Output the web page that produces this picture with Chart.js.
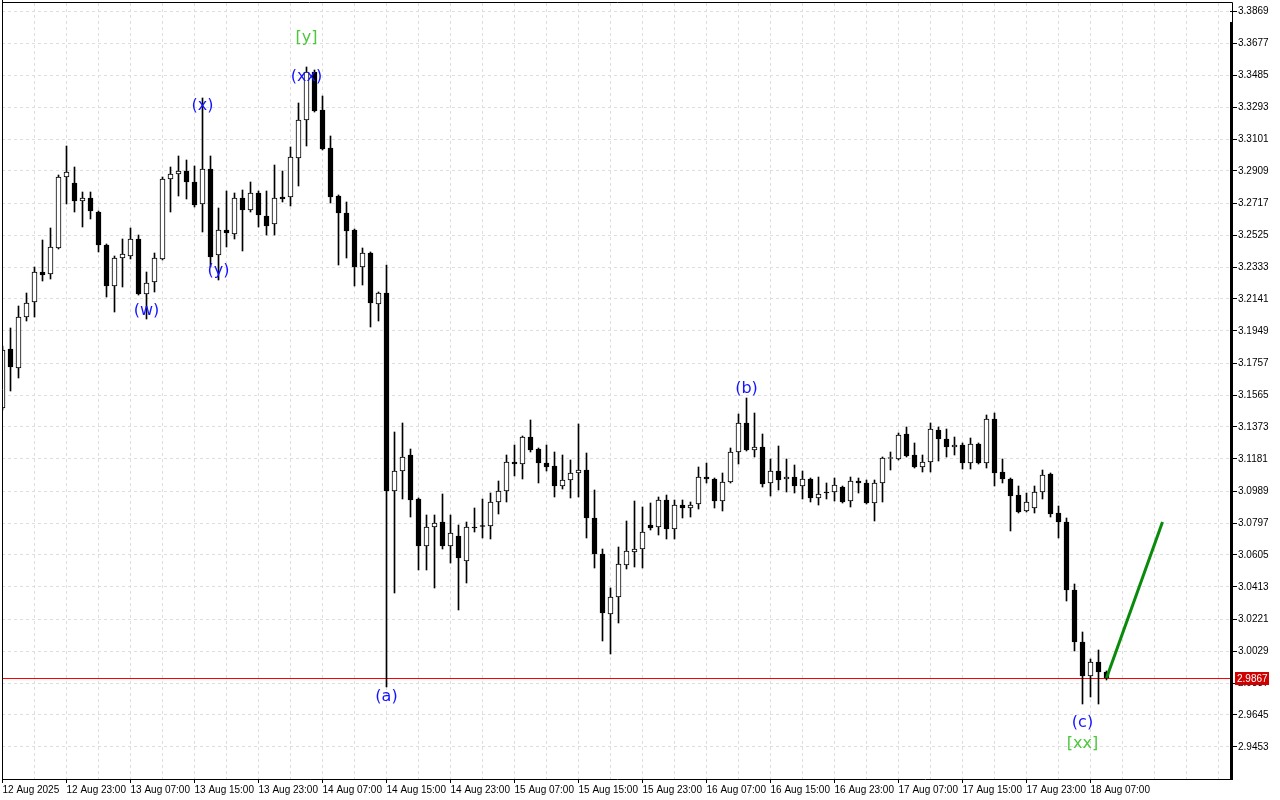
<!DOCTYPE html>
<html lang="en">
<head>
<meta charset="UTF-8">
<title>H1 Elliott wave chart</title>
<style>
  * { margin: 0; padding: 0; box-sizing: border-box; }
  body { background: #fff; width: 1280px; height: 800px; overflow: hidden; }
  canvas { display: block; }
</style>
<script src="https://cdn.jsdelivr.net/npm/chart.js@4"></script>
</head>
<body>
<canvas id="chart" width="1280" height="800"></canvas>
<script>
// one label every 8 hourly bars, first bar = 12 Aug 15:00
const timeLabels = ['12 Aug 2025', '12 Aug 23:00', '13 Aug 07:00', '13 Aug 15:00', '13 Aug 23:00',
  '14 Aug 07:00', '14 Aug 15:00', '14 Aug 23:00', '15 Aug 07:00', '15 Aug 15:00', '15 Aug 23:00',
  '16 Aug 07:00', '16 Aug 15:00', '16 Aug 23:00', '17 Aug 07:00', '17 Aug 15:00', '17 Aug 23:00',
  '18 Aug 07:00'];

const open = [
  3.1487, 3.1841, 3.1727, 3.2033, 3.2123, 3.2303, 3.2291, 3.2447, 3.2873, 3.2837,
  3.2729, 3.2747, 3.2663, 3.2465, 3.2219, 3.2387, 3.2399, 3.2501, 3.2171, 3.2243,
  3.2381, 3.2861, 3.2891, 3.2909, 3.2843, 3.2711, 3.2921, 3.2405, 3.2555, 3.2531,
  3.2747, 3.2675, 3.2777, 3.2639, 3.2591, 3.2753, 3.2753, 3.2987, 3.3215, 3.3503,
  3.3275, 3.3047, 3.2759, 3.2657, 3.2555, 3.2333, 3.2417, 3.2111, 3.2177, 3.0989,
  3.1109, 3.1205, 3.0941, 3.0659, 3.0773, 3.0803, 3.0659, 3.0719, 3.0569, 3.0773,
  3.0782, 3.0779, 3.0923, 3.0989, 3.1163, 3.1151, 3.1313, 3.1241, 3.1157, 3.1139,
  3.1019, 3.1055, 3.1097, 3.1115, 3.0827, 3.0611, 3.0251, 3.0353, 3.0545, 3.0623,
  3.0641, 3.0785, 3.0773, 3.0935, 3.0761, 3.0905, 3.0887, 3.0911, 3.1073, 3.1061,
  3.0929, 3.1043, 3.1223, 3.1397, 3.1235, 3.1253, 3.1037, 3.1109, 3.1061, 3.1073,
  3.1019, 3.1061, 3.0947, 3.0983, 3.0983, 3.1013, 3.0929, 3.1049, 3.1037, 3.0917,
  3.1037, 3.1184, 3.1181, 3.1331, 3.1205, 3.1133, 3.1163, 3.1355, 3.1301, 3.1253,
  3.1265, 3.1157, 3.1271, 3.1157, 3.1421, 3.1103, 3.1061, 3.0965, 3.0869, 3.0887,
  3.0983, 3.1091, 3.0857, 3.0803, 3.0395, 3.0083, 2.9879, 2.9963, 2.9903
];
const high = [
  3.1859, 3.1967, 3.2099, 3.2177, 3.2333, 3.2495, 3.2567, 3.2885, 3.3059, 3.2933,
  3.2783, 3.2783, 3.2669, 3.2471, 3.2399, 3.2501, 3.2567, 3.2525, 3.2303, 3.2417,
  3.2873, 3.2933, 3.2999, 3.2975, 3.2939, 3.3347, 3.2999, 3.2687, 3.2789, 3.2777,
  3.2795, 3.2843, 3.2789, 3.2789, 3.2945, 3.2909, 3.3053, 3.3317, 3.3533, 3.3515,
  3.3359, 3.3119, 3.2765, 3.2723, 3.2561, 3.2447, 3.2423, 3.2183, 3.2345, 3.1343,
  3.1397, 3.1241, 3.0947, 3.0845, 3.0845, 3.0971, 3.0845, 3.0785, 3.0803, 3.0887,
  3.0941, 3.0977, 3.1049, 3.1205, 3.1265, 3.1319, 3.1415, 3.1247, 3.1265, 3.1223,
  3.1205, 3.1175, 3.1391, 3.1217, 3.0995, 3.0641, 3.0407, 3.0653, 3.0809, 3.0929,
  3.0893, 3.0917, 3.0953, 3.0965, 3.0935, 3.0935, 3.0923, 3.1133, 3.1157, 3.1067,
  3.1097, 3.1247, 3.1451, 3.1547, 3.1457, 3.1331, 3.1181, 3.1259, 3.1181, 3.1145,
  3.1109, 3.1067, 3.1073, 3.1037, 3.1067, 3.1019, 3.1073, 3.1067, 3.1055, 3.1055,
  3.1193, 3.1223, 3.1337, 3.1373, 3.1277, 3.1205, 3.1397, 3.1373, 3.1361, 3.1313,
  3.1277, 3.1307, 3.1277, 3.1445, 3.1457, 3.1181, 3.1067, 3.1019, 3.0977, 3.1019,
  3.1115, 3.1097, 3.0899, 3.0827, 3.0431, 3.0143, 2.9981, 3.0035, 2.9909
];
const low = [
  3.1475, 3.1589, 3.1667, 3.2009, 3.2033, 3.2249, 3.2261, 3.2441, 3.2711, 3.2663,
  3.2573, 3.2621, 3.2423, 3.2153, 3.2063, 3.2213, 3.2381, 3.2165, 3.2021, 3.2183,
  3.2375, 3.2663, 3.2759, 3.2741, 3.2693, 3.2543, 3.2333, 3.2255, 3.2453, 3.2501,
  3.2429, 3.2663, 3.2573, 3.2525, 3.2525, 3.2723, 3.2699, 3.2819, 3.3059, 3.3263,
  3.3035, 3.2717, 3.2345, 3.2387, 3.2219, 3.2225, 3.1973, 3.2009, 2.9813, 3.0377,
  3.0941, 3.0833, 3.0515, 3.0515, 3.0407, 3.0641, 3.0557, 3.0275, 3.0437, 3.0743,
  3.0707, 3.0701, 3.0851, 3.0923, 3.1079, 3.1061, 3.1223, 3.1037, 3.1109, 3.0953,
  3.1001, 3.0947, 3.0953, 3.0707, 3.0527, 3.0089, 3.0011, 3.0197, 3.0521, 3.0533,
  3.0527, 3.0755, 3.0725, 3.0701, 3.0701, 3.0827, 3.0833, 3.0881, 3.1037, 3.0887,
  3.0869, 3.1037, 3.1151, 3.1229, 3.1193, 3.1013, 3.0959, 3.0995, 3.0983, 3.0977,
  3.0941, 3.0923, 3.0905, 3.0941, 3.0929, 3.0917, 3.0893, 3.0977, 3.0911, 3.0809,
  3.0923, 3.1115, 3.1175, 3.1193, 3.1127, 3.1103, 3.1103, 3.1169, 3.1193, 3.1205,
  3.1121, 3.1121, 3.1151, 3.1127, 3.1019, 3.1037, 3.0749, 3.0857, 3.0863, 3.0857,
  3.0941, 3.0833, 3.0707, 3.0329, 3.0029, 2.9711, 2.9753, 2.9711, 2.9855
];
const close = [
  3.1835, 3.1733, 3.2033, 3.2117, 3.2303, 3.2285, 3.2453, 3.2873, 3.2903, 3.2729,
  3.2747, 3.2669, 3.2465, 3.2219, 3.2387, 3.2411, 3.2501, 3.2171, 3.2237, 3.2387,
  3.2861, 3.2891, 3.2909, 3.2843, 3.2705, 3.2921, 3.2393, 3.2555, 3.2537, 3.2747,
  3.2675, 3.2777, 3.2645, 3.2579, 3.2747, 3.2741, 3.2993, 3.3215, 3.3503, 3.3269,
  3.3041, 3.2753, 3.2657, 3.2549, 3.2333, 3.2417, 3.2117, 3.2177, 3.0989, 3.1109,
  3.1193, 3.0935, 3.0659, 3.0773, 3.0797, 3.0659, 3.0737, 3.0587, 3.0773, 3.0767,
  3.0776, 3.0923, 3.0989, 3.1163, 3.1151, 3.1313, 3.1235, 3.1157, 3.1133, 3.1019,
  3.1055, 3.1097, 3.1115, 3.0827, 3.0611, 3.0257, 3.0353, 3.0551, 3.0629, 3.0641,
  3.0743, 3.0767, 3.0935, 3.0761, 3.0905, 3.0887, 3.0905, 3.1073, 3.1061, 3.0929,
  3.1043, 3.1223, 3.1397, 3.1235, 3.1253, 3.1031, 3.1109, 3.1055, 3.1073, 3.1019,
  3.1061, 3.0947, 3.0971, 3.0977, 3.1025, 3.0923, 3.1049, 3.1037, 3.0917, 3.1037,
  3.1187, 3.1187, 3.1325, 3.1199, 3.1133, 3.1163, 3.1361, 3.1301, 3.1253, 3.1265,
  3.1157, 3.1271, 3.1157, 3.1421, 3.1097, 3.1061, 3.0959, 3.0863, 3.0923, 3.0983,
  3.1085, 3.0851, 3.0803, 3.0395, 3.0083, 2.9879, 2.9963, 2.9903, 2.9867
];

const yTicks = [3.3869, 3.3677, 3.3485, 3.3293, 3.3101, 3.2909, 3.2717, 3.2525, 3.2333, 3.2141,
  3.1949, 3.1757, 3.1565, 3.1373, 3.1181, 3.0989, 3.0797, 3.0605, 3.0413, 3.0221,
  3.0029, 2.9837, 2.9645, 2.9453];

const lastPrice = 2.9867;

// forecast line (bar index, price)
const forecastX = [138, 145];
const forecastY = [2.9867, 3.0803];

// wave marks
const waveText  = ['(w)', '(x)', '(y)', '(xx)', '[y]', '(a)', '(b)', '(c)', '[xx]'];
const waveBar   = [18, 25, 27, 38, 38, 48, 93, 135, 135];
const wavePrice = [3.2069, 3.3299, 3.2309, 3.3473, 3.3707, 2.9753, 3.1601, 2.9597, 2.9471];
const waveColor = ['#1414ff', '#1414ff', '#1414ff', '#1414ff', '#4cc83c', '#1414ff', '#1414ff', '#1414ff', '#4cc83c'];

const bodies = open.map((o, i) => ({ x: i, y: [o, close[i]] }));
const wicks = low.map((l, i) => ({ x: i, y: [l, high[i]] }));
const up = open.map((o, i) => close[i] >= o);

const overlay = {
  id: 'overlay',
  beforeDatasetsDraw(chart) {
    const { ctx, chartArea: a, scales: { y } } = chart;
    const py = Math.round(y.getPixelForValue(lastPrice)) + 0.5;
    ctx.save();
    ctx.setLineDash([]);
    ctx.strokeStyle = '#ff0000';
    ctx.lineWidth = 1;
    ctx.beginPath();
    ctx.moveTo(a.left, py);
    ctx.lineTo(a.right, py);
    ctx.stroke();
    ctx.restore();
  },
  afterDraw(chart) {
    const { ctx, chartArea: a, scales: { x, y } } = chart;
    ctx.save();
    ctx.setLineDash([]);
    // frame
    ctx.strokeStyle = '#000';
    ctx.lineWidth = 1;
    ctx.beginPath();
    ctx.moveTo(a.left + 0.5, 0);
    ctx.lineTo(a.left + 0.5, a.bottom + 0.5);
    ctx.lineTo(a.right + 3, a.bottom + 0.5);
    ctx.moveTo(a.left, 2.5);
    ctx.lineTo(a.right + 2.5, 2.5);
    ctx.lineTo(a.right + 2.5, 22);
    ctx.stroke();
    ctx.fillStyle = '#000';
    ctx.fillRect(a.right, 22, 3, a.bottom - 21);

    // wave labels
    ctx.font = '16px "DejaVu Sans"';
    ctx.textAlign = 'center';
    ctx.textBaseline = 'middle';
    waveText.forEach((t, i) => {
      ctx.fillStyle = waveColor[i];
      ctx.fillText(t, x.getPixelForValue(waveBar[i]), y.getPixelForValue(wavePrice[i]));
    });

    // last price tag
    const py = Math.round(y.getPixelForValue(lastPrice));
    ctx.fillStyle = '#d00000';
    ctx.fillRect(a.right + 5, py - 6, 34, 13);
    ctx.fillStyle = '#fff';
    ctx.font = '10px "Liberation Sans"';
    ctx.textAlign = 'left';
    ctx.fillText(lastPrice.toFixed(4), a.right + 7, py + 1);
    ctx.restore();
  }
};

new Chart(document.getElementById('chart'), {
  type: 'bar',
  data: {
    datasets: [
      {
        type: 'line',
        data: forecastX.map((v, i) => ({ x: v, y: forecastY[i] })),
        borderColor: '#0a8a0a',
        borderWidth: 3,
        pointRadius: 0,
        order: -1
      },
      {
        data: bodies,
        backgroundColor: up.map(u => u ? '#ffffff' : '#000000'),
        borderColor: '#000',
        borderWidth: 1,
        borderSkipped: false,
        barThickness: 5,
        minBarLength: 1,
        grouped: false,
        order: 0
      },
      {
        data: wicks,
        backgroundColor: '#000',
        borderWidth: 0,
        barThickness: 1,
        grouped: false,
        order: 1
      }
    ]
  },
  options: {
    responsive: false,
    animation: false,
    devicePixelRatio: 1,
    layout: { padding: { left: 2, top: 3, right: 0, bottom: 0 } },
    plugins: { legend: { display: false }, tooltip: { enabled: false } },
    scales: {
      x: {
        type: 'linear',
        offset: false,
        bounds: 'data',
        min: -0.0625,
        max: 153.4375,
        afterBuildTicks: s => {
          const t = [];
          for (let v = 0; v <= 152; v += 4) t.push({ value: v });
          s.ticks = t;
        },
        afterFit: s => {
          s.height = 21;
          s.paddingLeft = 0;
          s.paddingRight = 0;
        },
        grid: {
          offset: false,
          color: '#dedede',
          lineWidth: 1,
          drawTicks: true,
          tickLength: 4,
          tickBorderDash: [],
          tickColor: c => (c.tick && c.tick.value % 8 === 0 && c.tick.value / 8 < timeLabels.length) ? '#000' : 'rgba(0,0,0,0)'
        },
        border: { display: false, dash: [3, 3] },
        ticks: {
          autoSkip: false,
          maxRotation: 0,
          minRotation: 0,
          align: 'start',
          padding: 1,
          color: '#000',
          font: { family: 'Liberation Sans', size: 10 },
          callback: v => (v % 8 === 0 && v / 8 < timeLabels.length) ? timeLabels[v / 8] : ''
        }
      },
      y: {
        type: 'linear',
        position: 'right',
        bounds: 'data',
        min: 2.9261,
        max: 3.3917,
        afterBuildTicks: s => { s.ticks = yTicks.map(v => ({ value: v })); },
        afterFit: s => {
          s.width = 50;
          s.paddingTop = 0;
          s.paddingBottom = 0;
        },
        grid: {
          color: '#dedede',
          lineWidth: 1,
          tickLength: 7,
          tickBorderDash: [],
          tickColor: '#000'
        },
        border: { display: false, dash: [3, 3] },
        ticks: {
          padding: 1,
          color: '#000',
          font: { family: 'Liberation Sans', size: 10 },
          callback: v => v.toFixed(4)
        }
      }
    }
  },
  plugins: [overlay]
});
</script>
</body>
</html>
